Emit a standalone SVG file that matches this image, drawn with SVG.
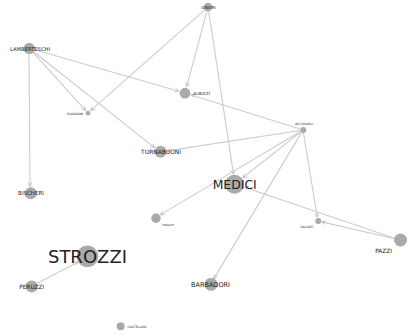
<svg xmlns="http://www.w3.org/2000/svg" width="408" height="335" viewBox="0 0 408 335">
<defs>
<style>
.e{stroke:#cccccc;stroke-width:1.1;fill:none;marker-end:url(#arr)}
.n{fill:#aaaaaa}
text{font-family:"DejaVu Sans","Liberation Sans",sans-serif;fill:#222;text-anchor:middle;dominant-baseline:central}
</style>
<marker id="arr" viewBox="0 0 10 10" refX="9" refY="5" markerWidth="5" markerHeight="5" orient="auto" markerUnits="userSpaceOnUse">
<path d="M1,1 L9,5 L1,9" fill="none" stroke="#bbbbbb" stroke-width="1.6"/>
</marker>
</defs>
<rect width="408" height="335" fill="#ffffff"/>
<g id="edges">
<line class="e" x1="205" y1="9.6" x2="90.6" y2="110.7"/>
<line class="e" x1="207" y1="10.9" x2="186.7" y2="86.7"/>
<line class="e" x1="208.6" y1="11" x2="233.5" y2="174.1"/>
<line class="e" x1="34.8" y1="49.7" x2="178.8" y2="91.2"/>
<line class="e" x1="33" y1="52.4" x2="85.6" y2="110.4"/>
<line class="e" x1="33.7" y1="51.7" x2="154.5" y2="147.6"/>
<line class="e" x1="29" y1="54" x2="30" y2="186.5"/>
<line class="e" x1="300.1" y1="129.1" x2="191.2" y2="94.9"/>
<line class="e" x1="300" y1="130.5" x2="166.9" y2="150.9"/>
<line class="e" x1="300.7" y1="131.9" x2="242.8" y2="177.8"/>
<line class="e" x1="300.4" y1="131.5" x2="160.2" y2="214.9"/>
<line class="e" x1="301.5" y1="132.6" x2="213.9" y2="278.6"/>
<line class="e" x1="303.5" y1="133" x2="317.3" y2="217.1"/>
<line class="e" x1="393.7" y1="238.5" x2="321.9" y2="221.9"/>
<line class="e" x1="393.8" y1="237.9" x2="244.5" y2="187.2"/>
<line class="e" x1="37.3" y1="283.2" x2="78.2" y2="262.1"/>
</g>
<g id="GINORI"><circle class="n" cx="208" cy="7" r="4.3"/><text x="208.5" y="7" font-size="4">GINORI</text></g>
<g id="LAMBERTESCHI"><circle class="n" cx="29.3" cy="48.5" r="5.7"/><text x="30" y="49" font-size="5.2">LAMBERTESCHI</text></g>
<g id="GUADAGNI"><circle class="n" cx="88" cy="113.2" r="2.4"/><text x="75" y="113.5" font-size="3">GUADAGNI</text></g>
<g id="ALBIZZI"><circle class="n" cx="185" cy="93.2" r="5.4"/><text x="201.6" y="93" font-size="4.3">ALBIZZI</text></g>
<g id="ACCIAIUOLI"><circle class="n" cx="303.3" cy="130" r="3"/><text x="304" y="123.5" font-size="3.2">ACCIAIUOLI</text></g>
<g id="SALVIATI"><circle class="n" cx="318.3" cy="221" r="3"/><text x="307" y="227" font-size="3">SALVIATI</text></g>
<g id="PAZZI"><circle class="n" cx="400.5" cy="240" r="6.5"/><text x="383.5" y="250.5" font-size="5.8">PAZZI</text></g>
<g id="TORNABUONI"><circle class="n" cx="160.5" cy="151.8" r="6"/><text x="161" y="152.3" font-size="5.9">TORNABUONI</text></g>
<g id="BISCHERI"><circle class="n" cx="30.7" cy="193.3" r="6"/><text x="31" y="193.4" font-size="5.5">BISCHERI</text></g>
<g id="MEDICI"><circle class="n" cx="234.5" cy="184.3" r="9.5"/><text x="234.7" y="184.5" font-size="12.4">MEDICI</text></g>
<g id="RIDOLFI"><circle class="n" cx="156" cy="218.3" r="4.7"/><text x="168.3" y="225.3" font-size="2.9">RIDOLFI</text></g>
<g id="STROZZI"><circle class="n" cx="87.5" cy="256.3" r="10.8"/><text x="87.5" y="256.5" font-size="18">STROZZI</text></g>
<g id="PERUZZI"><circle class="n" cx="31.7" cy="286.5" r="6"/><text x="31.7" y="286.8" font-size="5.8">PERUZZI</text></g>
<g id="BARBADORI"><circle class="n" cx="211" cy="284.3" r="6.5"/><text x="210.5" y="284.5" font-size="6.5">BARBADORI</text></g>
<g id="CASTELLANI"><circle class="n" cx="120.7" cy="326.3" r="4"/><text x="137" y="326.5" font-size="3.1">CASTELLANI</text></g>
</svg>
